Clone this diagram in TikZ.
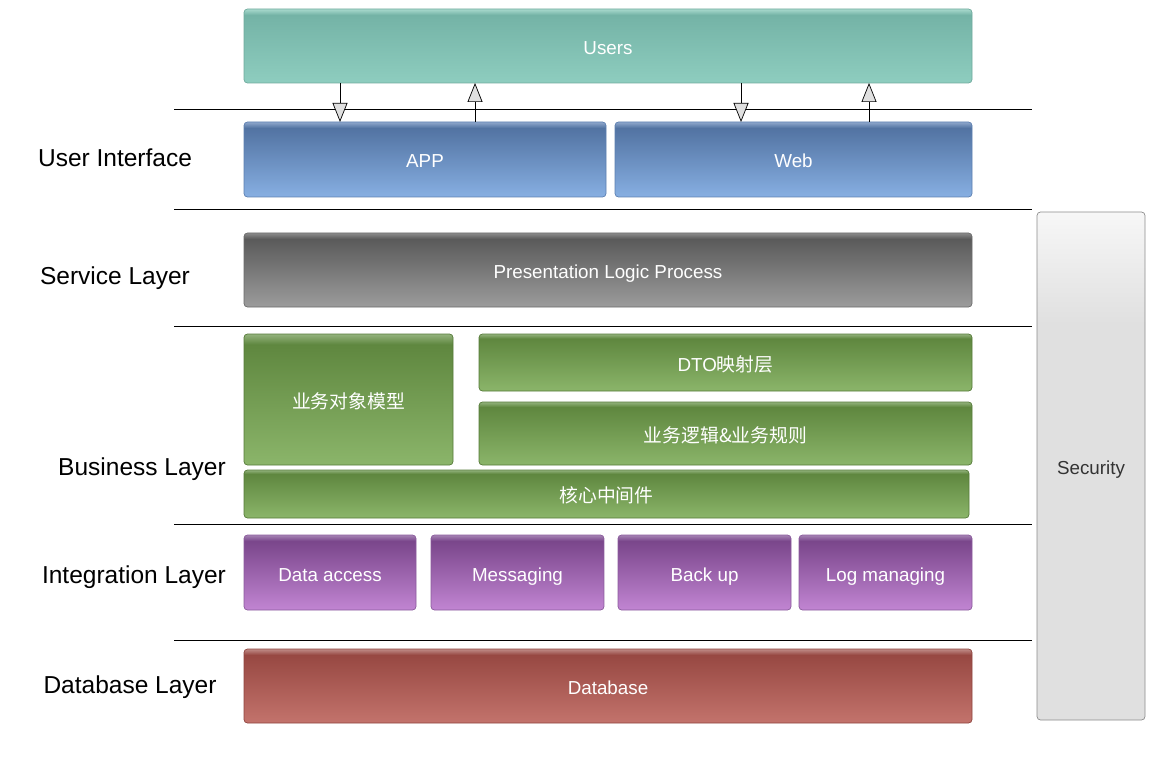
\documentclass[tikz,border=0pt]{standalone}
\usepackage{fontspec}
\setmainfont{Liberation Sans}
\newfontfamily\cjk{Noto Sans CJK SC}
\usetikzlibrary{arrows.meta}

% colour families: T = top, B = bottom, H = top highlight, R = rim
\definecolor{usersT}{HTML}{74B3A6}\definecolor{usersB}{HTML}{8ECDBF}\definecolor{usersH}{HTML}{A9DACE}\definecolor{usersR}{HTML}{6FA99C}
\definecolor{blueT}{HTML}{5273A2}\definecolor{blueB}{HTML}{87AFE2}\definecolor{blueH}{HTML}{8FA8CC}\definecolor{blueR}{HTML}{5C7FB0}
\definecolor{grayT}{HTML}{5A5A5A}\definecolor{grayB}{HTML}{9C9C9C}\definecolor{grayH}{HTML}{8C8C8C}\definecolor{grayR}{HTML}{6A6A6A}
\definecolor{greenT}{HTML}{5F873F}\definecolor{greenB}{HTML}{8BB56A}\definecolor{greenH}{HTML}{94B37E}\definecolor{greenR}{HTML}{557A38}
\definecolor{purpT}{HTML}{7A468B}\definecolor{purpB}{HTML}{C185D2}\definecolor{purpH}{HTML}{A584B4}\definecolor{purpR}{HTML}{8A5A9C}
\definecolor{redT}{HTML}{974842}\definecolor{redB}{HTML}{C3736C}\definecolor{redH}{HTML}{C08C88}\definecolor{redR}{HTML}{8E443E}
\definecolor{secB}{HTML}{E0E0E0}\definecolor{secT}{HTML}{F7F7F7}\definecolor{secR}{HTML}{8C8C8C}

% vertical gradients with a thin light band along the top edge
\pgfdeclareverticalshading{usersshade}{100bp}{color(0bp)=(usersB); color(25bp)=(usersB); color(71bp)=(usersT); color(75bp)=(usersH); color(100bp)=(usersH)}
\pgfdeclareverticalshading{blueshade}{100bp}{color(0bp)=(blueB); color(25bp)=(blueB); color(71bp)=(blueT); color(75bp)=(blueH); color(100bp)=(blueH)}
\pgfdeclareverticalshading{grayshade}{100bp}{color(0bp)=(grayB); color(25bp)=(grayB); color(71bp)=(grayT); color(75bp)=(grayH); color(100bp)=(grayH)}
\pgfdeclareverticalshading{greenshade}{100bp}{color(0bp)=(greenB); color(25bp)=(greenB); color(71bp)=(greenT); color(75bp)=(greenH); color(100bp)=(greenH)}
\pgfdeclareverticalshading{purpshade}{100bp}{color(0bp)=(purpB); color(25bp)=(purpB); color(71bp)=(purpT); color(75bp)=(purpH); color(100bp)=(purpH)}
\pgfdeclareverticalshading{redshade}{100bp}{color(0bp)=(redB); color(25bp)=(redB); color(71bp)=(redT); color(75bp)=(redH); color(100bp)=(redH)}
\pgfdeclareverticalshading{secshade}{100bp}{color(0bp)=(secB); color(25bp)=(secB); color(64bp)=(secB); color(75bp)=(secT); color(100bp)=(secT)}

\tikzset{
  x=1pt, y=-1pt,
  tier/.style={rectangle, rounded corners=3.5pt, inner sep=0pt, outer sep=0pt,
    line width=0.7pt, text=white, font=\fontsize{18.8}{22}\selectfont,
    text height=17pt, text depth=0pt},
  userbox/.style={tier, shading=usersshade, draw=usersR},
  bluebox/.style={tier, shading=blueshade, draw=blueR},
  graybox/.style={tier, shading=grayshade, draw=grayR},
  greenbox/.style={tier, shading=greenshade, draw=greenR},
  purpbox/.style={tier, shading=purpshade, draw=purpR},
  redbox/.style={tier, shading=redshade, draw=redR},
  secbox/.style={tier, shading=secshade, draw=secR, text=black!80},
  layername/.style={font=\fontsize{24.5}{28}\selectfont, text=black,
    text height=17.5pt, text depth=0pt, inner sep=0pt},
  divider/.style={draw=black, line width=1pt},
  flow/.style={draw=black, line width=0.7pt,
    -{Triangle[length=19pt, width=15pt, fill=black!12]}},
}

\begin{document}
\begin{tikzpicture}
\useasboundingbox (0,0) rectangle (1155,783);

% ---- tiers ----
\node[userbox, minimum width=728pt, minimum height=74pt] (users) at (608,46) {Users};
\node[bluebox, minimum width=362pt, minimum height=75pt] (app) at (425,159.5) {APP};
\node[bluebox, minimum width=357pt, minimum height=75pt] (web) at (793.5,159.5) {Web};
\node[graybox, minimum width=728pt, minimum height=74pt] (pres) at (608,270) {Presentation Logic Process};
\node[greenbox, minimum width=209pt, minimum height=131pt] (bom) at (348.5,399.5) {\cjk 业务对象模型};
\node[greenbox, minimum width=493pt, minimum height=57pt] (dto) at (725.5,362.5) {DTO{\cjk 映射层}};
\node[greenbox, minimum width=493pt, minimum height=63pt] (rules) at (725.5,433.5) {\cjk 业务逻辑\&业务规则};
\node[greenbox, minimum width=725pt, minimum height=48pt] (core) at (606.5,494) {\cjk 核心中间件};
\node[purpbox, minimum width=172pt, minimum height=75pt] (dao) at (330,572.5) {Data access};
\node[purpbox, minimum width=173pt, minimum height=75pt] (msg) at (517.5,572.5) {Messaging};
\node[purpbox, minimum width=173pt, minimum height=75pt] (bak) at (704.5,572.5) {Back up};
\node[purpbox, minimum width=173pt, minimum height=75pt] (logm) at (885.5,572.5) {Log managing};
\node[redbox, minimum width=728pt, minimum height=74pt] (db) at (608,686) {Database};
\node[secbox, minimum width=108pt, minimum height=508pt] (sec) at (1091,466) {Security};

% ---- layer names ----
\node[layername] (lui) at (115,158) {User Interface};
\node[layername] (lsv) at (115,276) {Service Layer};
\node[layername] (lbz) at (142,467) {Business Layer};
\node[layername] (lig) at (134,575) {Integration Layer};
\node[layername] (ldb) at (130,685) {Database Layer};

% ---- layer dividers ----
\foreach \yy in {110,210,326,524,640}
  \draw[divider] (174,\yy) -- (1032,\yy);

% ---- request / response flows between users and clients ----
\coordinate (appin)  at (340,0);
\coordinate (appout) at (475,0);
\coordinate (webin)  at (741,0);
\coordinate (webout) at (869,0);
\draw[flow] (users.south -| appin)  -- (app.north -| appin);
\draw[flow] (app.north -| appout)   -- (users.south -| appout);
\draw[flow] (users.south -| webin)  -- (web.north -| webin);
\draw[flow] (web.north -| webout)   -- (users.south -| webout);
\end{tikzpicture}
\end{document}
